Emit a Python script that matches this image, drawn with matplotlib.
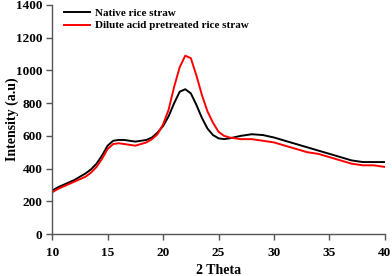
import matplotlib
matplotlib.use("Agg")
import matplotlib.pyplot as plt

two_theta = [10, 10.5, 11, 11.5, 12, 12.5, 13, 13.5, 14, 14.5, 15, 15.5, 16, 16.5, 17, 17.5,
             18, 18.5, 19, 19.5, 20, 20.5, 21, 21.5, 22, 22.5, 23, 23.5, 24, 24.5, 25, 25.5,
             26, 27, 28, 29, 30, 31, 32, 33, 34, 35, 36, 37, 38, 39, 40]
native = [265, 285, 300, 315, 330, 350, 370, 395, 430, 480, 540, 570, 575, 575, 570, 565,
          570, 575, 590, 620, 660, 720, 800, 870, 885, 860, 790, 710, 645, 605, 585, 580,
          585, 600, 610, 605, 590, 570, 550, 530, 510, 490, 470, 450, 440, 440, 440]
pretreated = [255, 275, 290, 305, 320, 335, 350, 375, 410, 460, 520, 550, 555, 550, 545, 540,
              550, 560, 580, 610, 670, 760, 900, 1020, 1090, 1075, 970, 850, 750, 680, 625, 600,
              590, 580, 580, 570, 560, 540, 520, 500, 490, 470, 450, 430, 420, 420, 410]
labels = ["Native rice straw", "Dilute acid pretreated rice straw"]
xticks = [10, 15, 20, 25, 30, 35, 40]
yticks = [0, 200, 400, 600, 800, 1000, 1200, 1400]

plt.rcParams['font.family'] = ['Liberation Serif', 'DejaVu Serif']
plt.rcParams['font.weight'] = 'bold'

fig = plt.figure(figsize=(3.92, 2.76), dpi=100)
ax = fig.add_axes([0.133, 0.152, 0.849, 0.830])
ax.plot(two_theta, native, color='black', lw=1.4, label=labels[0])
ax.plot(two_theta, pretreated, color='red', lw=1.4, label=labels[1])

ax.set_xlim(10, 40)
ax.set_ylim(0, 1400)
ax.set_xticks(xticks)
ax.set_yticks(yticks)
for s in ['top', 'right']:
    ax.spines[s].set_visible(False)
for s in ['left', 'bottom']:
    ax.spines[s].set_color('#555555')
    ax.spines[s].set_linewidth(1.0)
ax.tick_params(direction='out', length=4, width=1, color='#555555', labelsize=9.5)
for t in ax.get_xticklabels() + ax.get_yticklabels():
    t.set_fontweight('bold')
ax.tick_params(axis='x', pad=5)
ax.tick_params(axis='y', pad=3)
ax.set_xlabel("2 Theta", fontsize=10, fontweight='bold', va='center')
ax.xaxis.set_label_coords(0.5, -0.157)
ax.set_ylabel("Intensity (a.u)", fontsize=10, fontweight='bold', va='center')
ax.yaxis.set_label_coords(-0.12, 0.5)
leg = ax.legend(loc='upper left', bbox_to_anchor=(0.005, 1.03), frameon=False,
                prop={'weight': 'bold', 'size': 8}, handlelength=2.4, handletextpad=0.45,
                labelspacing=0.25)
fig.savefig("out.png", dpi=100)
